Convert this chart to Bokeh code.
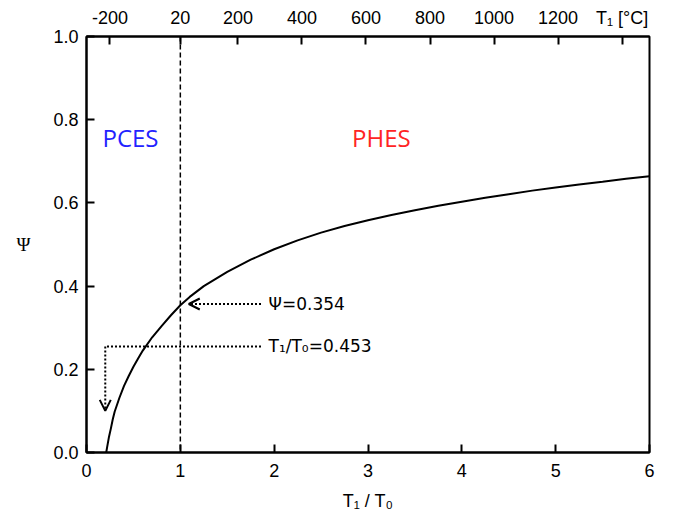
from bokeh.plotting import figure
from bokeh.models import Range1d, LinearAxis, FixedTicker, Span, Arrow, OpenHead, ColumnDataSource
from bokeh.core.properties import value
from bokeh.embed import file_html
from bokeh.resources import INLINE

# ---- data ----
ratio = [0.21, 0.22, 0.24, 0.26, 0.28, 0.30, 0.35, 0.40, 0.45, 0.50, 0.55, 0.60, 0.70,
         0.80, 0.90, 1.00, 1.10, 1.25, 1.50, 1.75, 2.00, 2.25, 2.50, 2.75, 3.00,
         3.25, 3.50, 3.75, 4.00, 4.25, 4.50, 4.75, 5.00, 5.25, 5.50, 5.75, 6.00]
psi = [0.000, 0.013, 0.038, 0.058, 0.080, 0.098, 0.131, 0.160, 0.184, 0.206, 0.226, 0.245, 0.277,
       0.304, 0.330, 0.354, 0.374, 0.400, 0.434, 0.4635, 0.4885, 0.510, 0.5285, 0.5445, 0.5585,
       0.571, 0.5825, 0.593, 0.603, 0.6125, 0.621, 0.6295, 0.637, 0.6445, 0.651, 0.658, 0.664]

x_ticks = [0, 1, 2, 3, 4, 5, 6]
y_ticks = [0.0, 0.2, 0.4, 0.6, 0.8, 1.0]
y_tick_labels = ["0.0", "0.2", "0.4", "0.6", "0.8", "1.0"]
top_temps_c = [-200, 20, 200, 400, 600, 800, 1000, 1200, 1400]
top_tick_labels = ["-200", "20", "200", "400", "600", "800", "1000", "1200", "T\u2081 [\u00b0C]"]
T0_K = 293.15

region_labels = ["PCES", "PHES"]
region_x = [0.17, 2.83]
region_y = [0.758, 0.758]
region_colors = ["#2323ff", "#ff2424"]

psi_note = "\u03a8=0.354"
psi_note_y = 0.357
psi_arrow_x = [1.86, 1.09]
ratio_note = "T\u2081/T\u2080=0.453"
ratio_note_y = 0.255
ratio_line_x = [1.86, 0.20]
ratio_arrow_y = [0.255, 0.10]
note_x = 1.94

# ---- figure ----
p = figure(width=665, height=517, output_backend="svg", toolbar_location=None,
           x_range=Range1d(0, 6), y_range=Range1d(0, 1),
           min_border_left=86, min_border_right=16, min_border_top=36, min_border_bottom=65)
p.xgrid.visible = False
p.ygrid.visible = False
p.outline_line_color = "black"
p.outline_line_width = 2
p.background_fill_color = "white"
p.border_fill_color = "white"

tick_font = "Liberation Sans"

def style_axis(ax, standoff):
    ax.axis_line_color = "black"
    ax.axis_line_width = 2
    ax.major_tick_line_color = "black"
    ax.major_tick_line_width = 2
    ax.major_tick_in = 8
    ax.major_tick_out = 0
    ax.minor_tick_line_color = None
    ax.major_label_text_font = tick_font
    ax.major_label_text_font_size = "18px"
    ax.major_label_text_color = "black"
    ax.major_label_standoff = standoff
    ax.axis_label_text_font_style = "normal"
    ax.axis_label_text_color = "black"

xa = p.xaxis[0]
style_axis(xa, 11)
xa.ticker = FixedTicker(ticks=x_ticks)
xa.axis_label = "T\u2081 / T\u2080"
xa.axis_label_text_font = tick_font
xa.axis_label_text_font_size = "18px"
xa.axis_label_standoff = 11

ya = p.yaxis[0]
style_axis(ya, 8)
ya.ticker = FixedTicker(ticks=y_ticks)
ya.major_label_overrides = {t: l for t, l in zip(y_ticks, y_tick_labels)}
ya.axis_label = "\u03a8"
ya.axis_label_text_font = "Liberation Serif"
ya.axis_label_text_font_size = "19px"
ya.axis_label_orientation = "horizontal"
ya.axis_label_standoff = 20

top_pos = [(t + 273.15) / T0_K for t in top_temps_c]
top = LinearAxis(ticker=FixedTicker(ticks=top_pos),
                 major_label_overrides={pos: l for pos, l in zip(top_pos, top_tick_labels)})
style_axis(top, 9)
p.add_layout(top, "above")

# curve
p.line(ratio, psi, line_color="black", line_width=2)

# dashed line at T1/T0 = 1
p.add_layout(Span(location=1, dimension="height", line_color="black",
                  line_width=1.5, line_dash="5 3"))

# region labels
src = ColumnDataSource(dict(x=region_x, y=region_y, t=region_labels, c=region_colors))
p.text(x="x", y="y", text="t", text_color="c", source=src,
       text_font=value("Open Sans"), text_font_size="24px",
       text_baseline="middle", text_align="left")

# annotation arrows
p.add_layout(Arrow(x_start=psi_arrow_x[0], y_start=psi_note_y,
                   x_end=psi_arrow_x[1], y_end=psi_note_y,
                   line_color="black", line_width=2, line_dash="2 2",
                   end=OpenHead(size=11, line_width=2, line_color="black")))
p.line(ratio_line_x, [ratio_note_y, ratio_note_y], line_color="black",
       line_width=2, line_dash="2 2")
p.add_layout(Arrow(x_start=ratio_line_x[1], y_start=ratio_arrow_y[0],
                   x_end=ratio_line_x[1], y_end=ratio_arrow_y[1],
                   line_color="black", line_width=2, line_dash="2 2",
                   end=OpenHead(size=11, line_width=2, line_color="black")))

p.text(x=[note_x, note_x], y=[psi_note_y, ratio_note_y], text=[psi_note, ratio_note],
       text_font=value("DejaVu Sans"), text_font_size="17px", text_color="black",
       text_baseline="middle", text_align="left")

open("out.html", "w").write(file_html(p, INLINE))
